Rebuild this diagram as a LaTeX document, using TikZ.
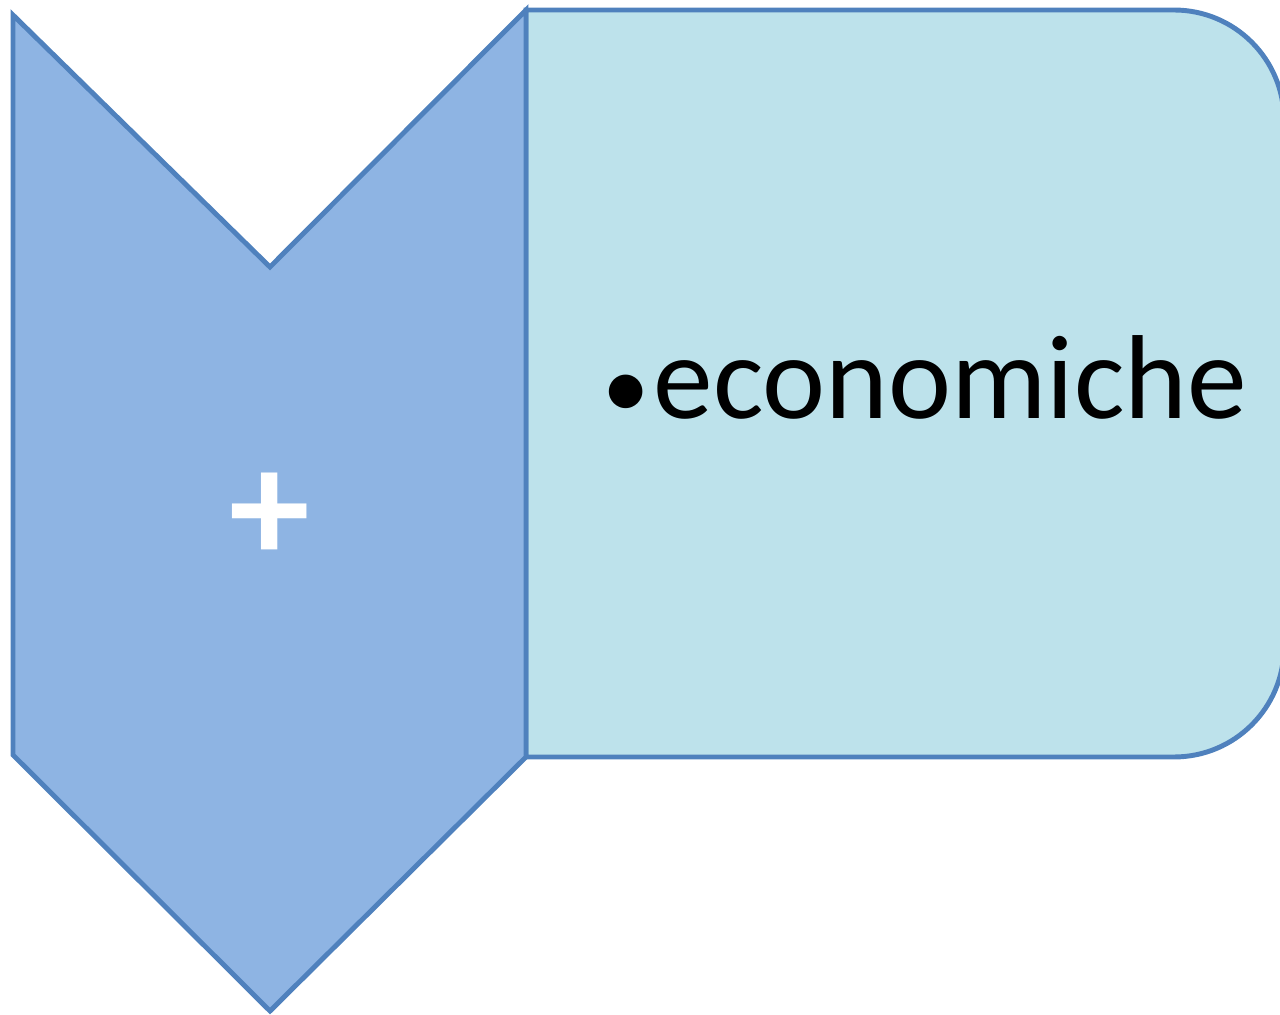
\documentclass[tikz,border=0pt]{standalone}
\usepackage{fontspec}
\setmainfont{Carlito}
\definecolor{chevfill}{HTML}{8EB4E3}
\definecolor{edgeblue}{HTML}{4F81BD}
\definecolor{boxfill}{HTML}{BDE2EB}
\begin{document}
\begin{tikzpicture}[
  x=0.02cm,y=-0.02cm,
  chevron/.style={draw=edgeblue,fill=chevfill,line width=2.8pt,line join=miter},
  itembox/.style={draw=edgeblue,fill=boxfill,line width=2.8pt},
  label/.style={font=\fontsize{68}{72}\selectfont,inner sep=0pt}
]
  \useasboundingbox (0,0) rectangle (1280,1014);
  \clip (0,0) rectangle (1280,1014);
  % rounded box on the right
  \draw[itembox] (526,10) -- (1174,10) arc[start angle=90,end angle=0,radius=2.2cm]
    -- (1284,647) arc[start angle=0,end angle=-90,radius=2.2cm] -- (526,757) -- cycle;
  % down chevron on the left
  \draw[chevron] (13,15) -- (270,267) -- (526,10) -- (526,757) -- (270,1011) -- (13,755) -- cycle;
  \coordinate (chevc) at (270,518);
  \coordinate (boxc) at (925,418);
  \node[label,text=white,font=\fontsize{92}{92}\selectfont\bfseries] (plus) at (chevc) {+};
  \node[label,anchor=base] (item) at (boxc) {{\fontsize{54}{54}\selectfont•}\kern2pt economiche};
\end{tikzpicture}
\end{document}
